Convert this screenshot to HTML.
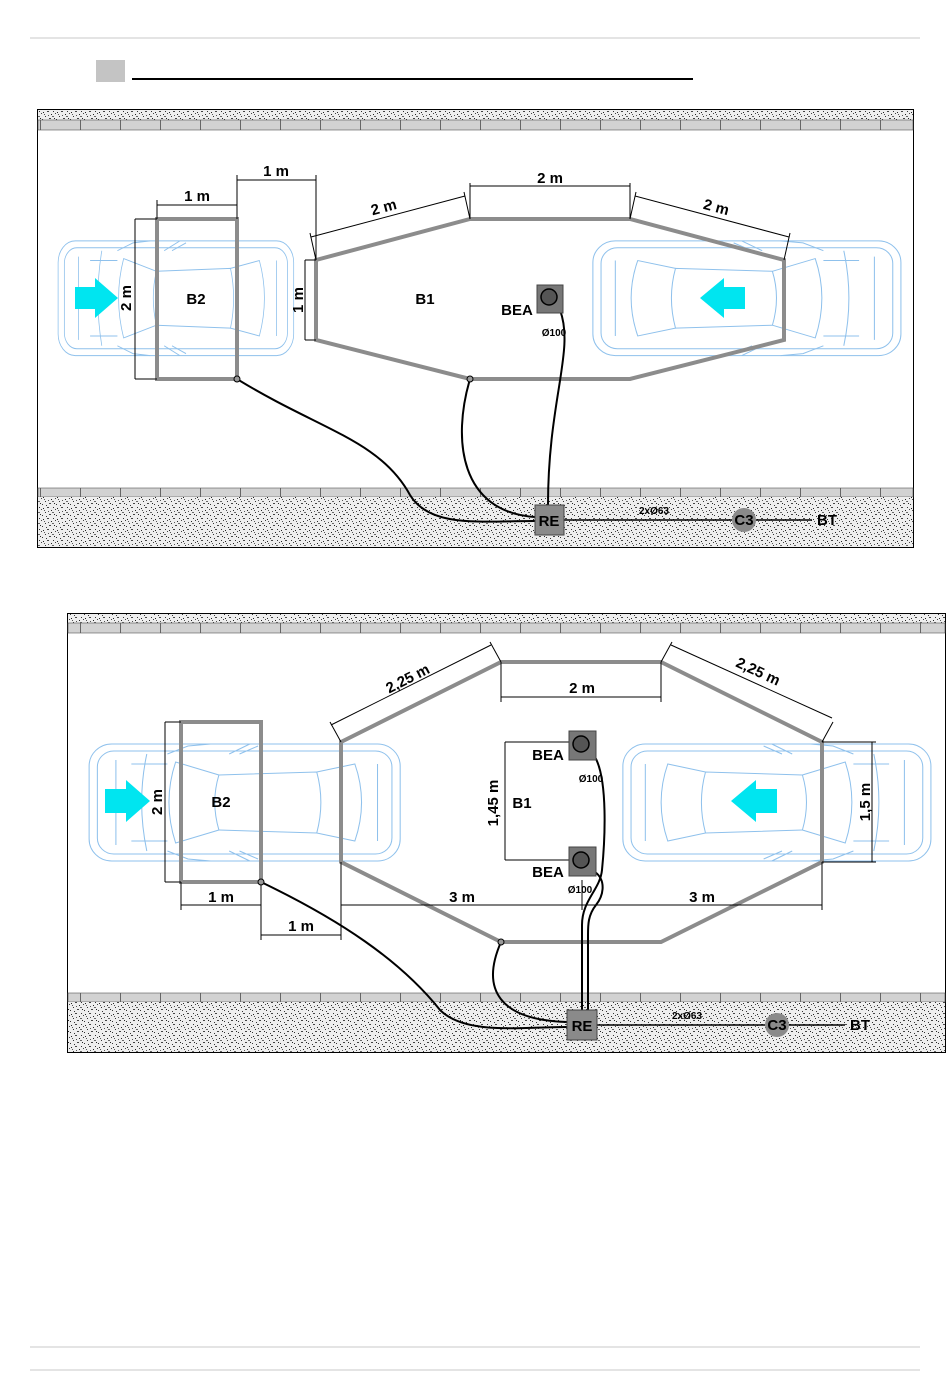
<!DOCTYPE html>
<html><head><meta charset="utf-8"><style>
html,body{margin:0;padding:0;background:#fff;}
svg{display:block;}
text{font-family:"Liberation Sans",Arial,sans-serif;font-weight:bold;fill:#000;}
</style></head><body>
<svg width="950" height="1379" viewBox="0 0 950 1379" xmlns="http://www.w3.org/2000/svg">
<defs>
<pattern id="sp" width="14" height="11" patternUnits="userSpaceOnUse">
<rect width="14" height="11" fill="#eeeeee"/>
<rect x="1" y="2" width="1" height="1" fill="#222"/><rect x="5" y="1" width="2" height="1" fill="#444"/>
<rect x="9" y="4" width="1" height="1" fill="#222"/><rect x="3" y="6" width="1" height="1" fill="#333"/>
<rect x="12" y="8" width="1" height="1" fill="#222"/><rect x="7" y="8" width="2" height="1" fill="#444"/>
<rect x="11" y="1" width="1" height="1" fill="#333"/><rect x="0" y="9" width="1" height="1" fill="#333"/>
<rect x="6" y="5" width="1" height="1" fill="#555"/><rect x="10" y="6" width="2" height="1" fill="#666"/>
<rect x="2" y="4" width="1" height="1" fill="#555"/><rect x="4" y="10" width="1" height="1" fill="#333"/>
<rect x="13" y="3" width="1" height="1" fill="#444"/>
</pattern>
<pattern id="curb" width="40" height="10" patternUnits="userSpaceOnUse">
<rect width="40" height="10" fill="#d2d2d2"/><rect x="0" y="0" width="1" height="10" fill="#666"/>
</pattern>
<g id="car" fill="none" stroke="#8fc1ec" stroke-width="1">
<rect x="4" y="4" width="302" height="117" rx="22"/>
<rect x="12" y="11" width="286" height="103" rx="16"/>
<path d="M80 14 L100 6 L122 4 M80 111 L100 119 L122 121"/>
<path d="M88 22 Q75 62 88 103 L130 90 Q122 62 130 35 Z"/>
<path d="M130 35 L225 32 Q233 62 225 93 L130 90"/>
<path d="M225 32 L262 24 Q275 62 262 101 L225 93"/>
<path d="M30 20 L30 105 M284 24 L284 101 M45 24 L80 24 M45 101 L80 101"/>
<path d="M140 14 L160 4 M140 111 L160 121 M150 14 L168 6 M150 111 L168 119"/>
<path d="M60 14 Q50 62 60 111"/>
</g>
</defs>

<line x1="30" y1="38" x2="920" y2="38" stroke="#c8c8c8" stroke-width="1"/>
<rect x="96" y="60" width="29" height="22" fill="#c4c4c4"/>
<line x1="132" y1="79" x2="693" y2="79" stroke="#000" stroke-width="2"/>
<line x1="30" y1="1347" x2="920" y2="1347" stroke="#c8c8c8" stroke-width="1"/>
<line x1="30" y1="1370" x2="920" y2="1370" stroke="#c8c8c8" stroke-width="1"/>

<!-- ===== DIAGRAM 1 ===== -->
<rect x="37.5" y="109.5" width="876" height="438" fill="#fff" stroke="#000" stroke-width="1"/>
<rect x="38" y="110" width="875" height="10" fill="url(#sp)"/>
<rect x="38" y="120" width="875" height="10" fill="url(#curb)" stroke="#555" stroke-width="0.6"/>
<rect x="38" y="488" width="875" height="9" fill="url(#curb)" stroke="#555" stroke-width="0.6"/>
<rect x="38" y="497" width="875" height="50" fill="url(#sp)"/>

<use href="#car" transform="translate(55,237) scale(0.78,0.98)"/>
<use href="#car" transform="translate(905,237) scale(-1.02,0.98)"/>

<polygon points="75,287 95,287 95,278 118,298 95,318 95,309 75,309" fill="#00e5f0"/>
<polygon points="745,287 724,287 724,278 700,298 724,318 724,309 745,309" fill="#00e5f0"/>

<rect x="157" y="219" width="80" height="160" fill="none" stroke="#8c8c8c" stroke-width="4"/>
<polygon points="316,260 470,219 630,219 784,260 784,340 630,379 470,379 316,340" fill="none" stroke="#8c8c8c" stroke-width="4"/>

<g stroke="#000" stroke-width="1" fill="none">
<line x1="157" y1="219" x2="157" y2="200"/><line x1="237" y1="219" x2="237" y2="175"/>
<line x1="157" y1="205" x2="237" y2="205"/>
<line x1="237" y1="180" x2="316" y2="180"/><line x1="316" y1="260" x2="316" y2="175"/>
<line x1="135" y1="219" x2="157" y2="219"/><line x1="135" y1="379" x2="157" y2="379"/>
<line x1="135" y1="219" x2="135" y2="379"/>
<line x1="305" y1="260" x2="305" y2="340"/><line x1="305" y1="260" x2="316" y2="260"/><line x1="305" y1="340" x2="316" y2="340"/>
<line x1="470" y1="219" x2="470" y2="183"/><line x1="630" y1="219" x2="630" y2="183"/>
<line x1="470" y1="186" x2="630" y2="186"/>
<line x1="316" y1="260" x2="310" y2="233"/><line x1="470" y1="219" x2="464" y2="192"/><line x1="311" y1="237" x2="465" y2="196"/>
<line x1="784" y1="260" x2="790" y2="233"/><line x1="630" y1="219" x2="636" y2="192"/><line x1="635" y1="196" x2="789" y2="237"/>
</g>
<text x="197" y="201" font-size="15" text-anchor="middle">1 m</text>
<text x="276" y="176" font-size="15" text-anchor="middle">1 m</text>
<text x="550" y="183" font-size="15" text-anchor="middle">2 m</text>
<text x="385" y="212" font-size="15" text-anchor="middle" transform="rotate(-15 385 212)">2 m</text>
<text x="715" y="212" font-size="15" text-anchor="middle" transform="rotate(15 715 212)">2 m</text>
<text x="131" y="298" font-size="15" text-anchor="middle" transform="rotate(-90 131 298)">2 m</text>
<text x="303" y="300" font-size="15" text-anchor="middle" transform="rotate(-90 303 300)">1 m</text>
<text x="196" y="304" font-size="15" text-anchor="middle">B2</text>
<text x="425" y="304" font-size="15" text-anchor="middle">B1</text>
<text x="517" y="315" font-size="15" text-anchor="middle">BEA</text>

<g fill="none" stroke="#000" stroke-width="2">
<path d="M237 379 C320 430 380 440 410 495 C430 528 480 521 535 521"/>
<path d="M470 379 C452 440 460 512 535 517"/>
<path d="M560 310 C575 350 548 400 548 505"/>
<line x1="564" y1="520" x2="732" y2="520" stroke-width="1.5"/>
<line x1="756" y1="520" x2="812" y2="520" stroke-width="1.5"/>
</g>
<circle cx="237" cy="379" r="3" fill="#999" stroke="#000"/>
<circle cx="470" cy="379" r="3" fill="#999" stroke="#000"/>
<rect x="537" y="285" width="26" height="28" fill="#777" stroke="#444"/>
<circle cx="549" cy="297" r="8" fill="#555" stroke="#000" stroke-width="1.5"/>
<text x="554" y="336" font-size="10" text-anchor="middle">Ø100</text>
<rect x="535" y="505" width="29" height="30" fill="#8a8a8a" stroke="#444"/>
<text x="549" y="526" font-size="15" text-anchor="middle">RE</text>
<circle cx="744" cy="520" r="12" fill="#8a8a8a"/>
<text x="744" y="525" font-size="15" text-anchor="middle">C3</text>
<text x="827" y="525" font-size="15" text-anchor="middle">BT</text>
<text x="654" y="514" font-size="10" text-anchor="middle">2xØ63</text>

<!-- ===== DIAGRAM 2 ===== -->
<rect x="67.5" y="613.5" width="878" height="439" fill="#fff" stroke="#000" stroke-width="1"/>
<rect x="68" y="614" width="877" height="9" fill="url(#sp)"/>
<rect x="68" y="623" width="877" height="10" fill="url(#curb)" stroke="#555" stroke-width="0.6"/>
<rect x="68" y="993" width="877" height="9" fill="url(#curb)" stroke="#555" stroke-width="0.6"/>
<rect x="68" y="1002" width="877" height="50" fill="url(#sp)"/>

<use href="#car" transform="translate(85,740) scale(1.03,1)"/>
<use href="#car" transform="translate(935,740) scale(-1.02,1)"/>

<polygon points="105,789 126,789 126,780 150,801 126,822 126,813 105,813" fill="#00e5f0"/>
<polygon points="777,789 756,789 756,780 731,801 756,822 756,813 777,813" fill="#00e5f0"/>

<rect x="181" y="722" width="80" height="160" fill="none" stroke="#8c8c8c" stroke-width="4"/>
<polygon points="341,742 501,662 661,662 822,742 822,862 661,942 501,942 341,862" fill="none" stroke="#8c8c8c" stroke-width="4"/>

<g stroke="#000" stroke-width="1" fill="none">
<line x1="165" y1="722" x2="181" y2="722"/><line x1="165" y1="882" x2="181" y2="882"/><line x1="165" y1="722" x2="165" y2="882"/>
<line x1="181" y1="882" x2="181" y2="910"/><line x1="261" y1="882" x2="261" y2="940"/><line x1="181" y1="905" x2="261" y2="905"/>
<line x1="261" y1="935" x2="341" y2="935"/><line x1="341" y1="862" x2="341" y2="940"/>
<line x1="341" y1="905" x2="822" y2="905"/><line x1="822" y1="862" x2="822" y2="910"/><line x1="582" y1="880" x2="582" y2="910"/>
<line x1="501" y1="662" x2="501" y2="702"/><line x1="661" y1="662" x2="661" y2="702"/><line x1="501" y1="697" x2="661" y2="697"/>
<line x1="341" y1="742" x2="330" y2="722"/><line x1="501" y1="662" x2="490" y2="642"/><line x1="331" y1="725" x2="491" y2="645"/>
<line x1="822" y1="742" x2="833" y2="722"/><line x1="661" y1="662" x2="672" y2="642"/><line x1="671" y1="645" x2="832" y2="718"/>
<line x1="505" y1="742" x2="578" y2="742"/><line x1="505" y1="860" x2="578" y2="860"/><line x1="505" y1="742" x2="505" y2="860"/>
<line x1="822" y1="742" x2="876" y2="742"/><line x1="822" y1="862" x2="876" y2="862"/><line x1="872" y1="742" x2="872" y2="862"/>
</g>
<text x="221" y="902" font-size="15" text-anchor="middle">1 m</text>
<text x="301" y="931" font-size="15" text-anchor="middle">1 m</text>
<text x="462" y="902" font-size="15" text-anchor="middle">3 m</text>
<text x="702" y="902" font-size="15" text-anchor="middle">3 m</text>
<text x="582" y="693" font-size="15" text-anchor="middle">2 m</text>
<text x="410" y="683" font-size="15" text-anchor="middle" transform="rotate(-27 410 683)">2,25 m</text>
<text x="756" y="676" font-size="15" text-anchor="middle" transform="rotate(25 756 676)">2,25 m</text>
<text x="162" y="802" font-size="15" text-anchor="middle" transform="rotate(-90 162 802)">2 m</text>
<text x="498" y="803" font-size="15" text-anchor="middle" transform="rotate(-90 498 803)">1,45 m</text>
<text x="870" y="802" font-size="15" text-anchor="middle" transform="rotate(-90 870 802)">1,5 m</text>
<text x="221" y="807" font-size="15" text-anchor="middle">B2</text>
<text x="522" y="808" font-size="15" text-anchor="middle">B1</text>
<text x="548" y="760" font-size="15" text-anchor="middle">BEA</text>
<text x="548" y="877" font-size="15" text-anchor="middle">BEA</text>

<g fill="none" stroke="#000" stroke-width="2">
<path d="M261 882 C340 920 400 960 440 1010 C465 1035 520 1027 567 1027"/>
<path d="M501 942 C480 990 500 1020 567 1022"/>
<path d="M595 757 C608 780 605 840 602 870 C600 890 582 900 582 925 L582 1010"/>
<path d="M595 872 C606 880 604 895 596 905 C588 915 588 925 588 935 L588 1010"/>
<line x1="597" y1="1025" x2="765" y2="1025" stroke-width="1.5"/>
<line x1="789" y1="1025" x2="845" y2="1025" stroke-width="1.5"/>
</g>
<circle cx="261" cy="882" r="3" fill="#999" stroke="#000"/>
<circle cx="501" cy="942" r="3" fill="#999" stroke="#000"/>
<rect x="569" y="731" width="27" height="29" fill="#777" stroke="#444"/>
<circle cx="581" cy="744" r="8" fill="#555" stroke="#000" stroke-width="1.5"/>
<rect x="569" y="847" width="27" height="29" fill="#777" stroke="#444"/>
<circle cx="581" cy="860" r="8" fill="#555" stroke="#000" stroke-width="1.5"/>
<text x="591" y="782" font-size="10" text-anchor="middle">Ø100</text>
<text x="580" y="893" font-size="10" text-anchor="middle">Ø100</text>
<rect x="567" y="1010" width="30" height="30" fill="#8a8a8a" stroke="#444"/>
<text x="582" y="1031" font-size="15" text-anchor="middle">RE</text>
<circle cx="777" cy="1025" r="12" fill="#8a8a8a"/>
<text x="777" y="1030" font-size="15" text-anchor="middle">C3</text>
<text x="860" y="1030" font-size="15" text-anchor="middle">BT</text>
<text x="687" y="1019" font-size="10" text-anchor="middle">2xØ63</text>
</svg>
</body></html>
